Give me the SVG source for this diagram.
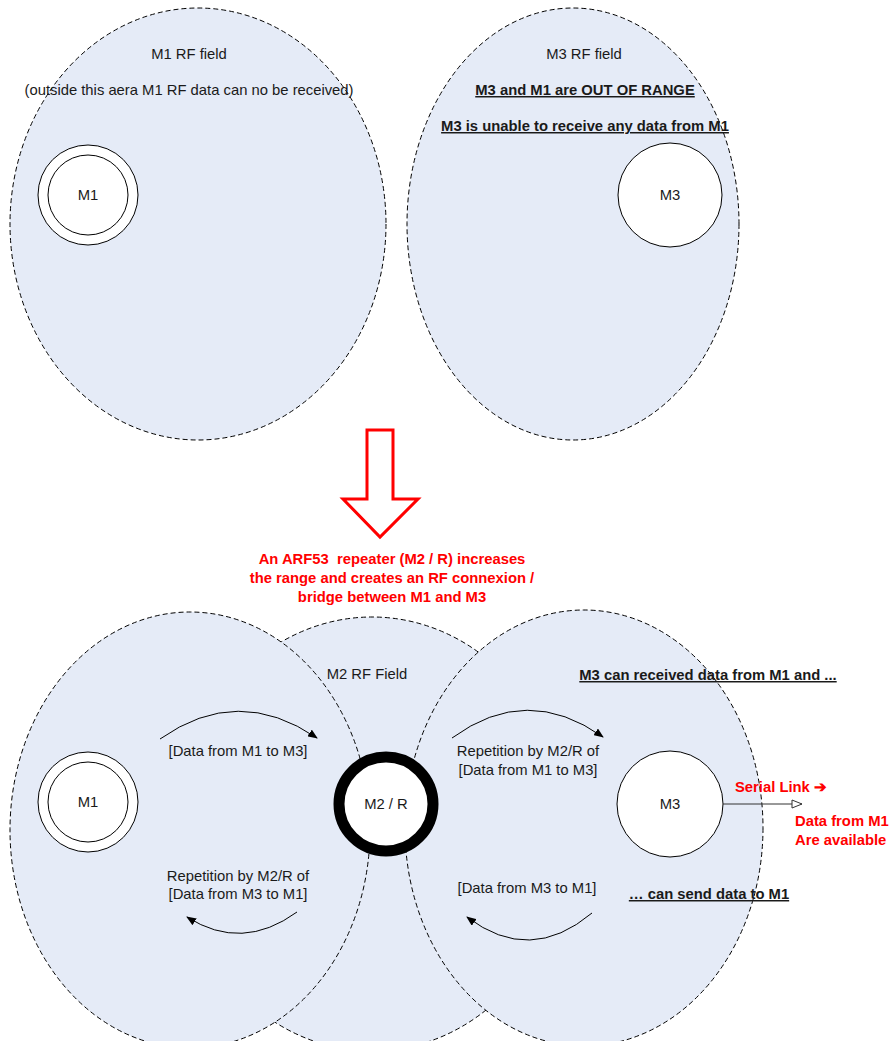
<svg xmlns="http://www.w3.org/2000/svg" width="890" height="1041" viewBox="0 0 890 1041">
<style>
.field{fill:#E5EBF7;stroke:#000;stroke-width:1;stroke-dasharray:5,3}
.node{fill:#fff;stroke:#000;stroke-width:1}
.t{font-family:"Liberation Sans",Arial,sans-serif;font-size:14.8px;fill:#1a1a1a;text-anchor:middle}
.b{font-weight:bold;text-decoration:underline}
.r{font-family:"Liberation Sans",Arial,sans-serif;font-size:14.8px;font-weight:bold;fill:#FF0000;white-space:pre}
.arc{fill:none;stroke:#000;stroke-width:1}
</style>
<defs>
<marker id="ah" markerWidth="10" markerHeight="8" refX="9" refY="4" orient="auto" markerUnits="userSpaceOnUse">
<path d="M0,0 L10,4 L0,8 z" fill="#000"/>
</marker>
<marker id="oh" markerWidth="12" markerHeight="10" refX="11" refY="5" orient="auto" markerUnits="userSpaceOnUse">
<path d="M1,1 L11,5 L1,9 z" fill="#fff" stroke="#333" stroke-width="1"/>
</marker>
</defs>

<!-- Top fields -->
<g id="m1-field-top">
<ellipse class="field" cx="198" cy="224" rx="188" ry="216"/>
<text class="t" x="189" y="59">M1 RF field</text>
<text class="t" x="189" y="95">(outside this aera M1 RF data can no be received)</text>
</g>
<g id="m3-field-top">
<ellipse class="field" cx="573" cy="224" rx="166" ry="216"/>
<text class="t" x="584" y="59">M3 RF field</text>
<text class="t b" x="585" y="95">M3 and M1 are OUT OF RANGE</text>
<text class="t b" x="585" y="131">M3 is unable to receive any data from M1</text>
</g>
<g id="m1-top">
<circle class="node" cx="88" cy="195" r="50"/>
<circle class="node" cx="88" cy="195" r="40"/>
<text class="t" x="88" y="200">M1</text>
</g>
<g id="m3-top">
<circle class="node" cx="670" cy="195" r="52"/>
<text class="t" x="670" y="200">M3</text>
</g>

<!-- Red transition arrow -->
<g id="transition">
<polygon points="367,430 393,430 393,499 418,499 380,537 343,499 367,499" fill="#fff" stroke="#FF0000" stroke-width="3" stroke-linejoin="miter"/>
<text class="r" x="392" y="564" text-anchor="middle">An ARF53  repeater (M2 / R) increases</text>
<text class="r" x="392" y="583" text-anchor="middle">the range and creates an RF connexion /</text>
<text class="r" x="392" y="602" text-anchor="middle">bridge between M1 and M3</text>
</g>

<!-- Bottom fields -->
<g id="m2-field">
<ellipse class="field" cx="372" cy="834" rx="195" ry="217"/>
<text class="t" x="367" y="679">M2 RF Field</text>
</g>
<g id="m1-field">
<ellipse class="field" cx="190" cy="830" rx="180" ry="218"/>
</g>
<g id="m3-field">
<ellipse class="field" cx="584" cy="828" rx="179" ry="218"/>
<text class="t b" x="708" y="680">M3 can received data from M1 and ...</text>
<text class="t b" x="709" y="899">… can send data to M1</text>
</g>

<g id="m1">
<circle class="node" cx="88" cy="802" r="50"/>
<circle class="node" cx="88" cy="802" r="40"/>
<text class="t" x="88" y="807">M1</text>
</g>
<g id="m2r">
<circle cx="386" cy="804" r="47" fill="#fff" stroke="#000" stroke-width="11"/>
<text class="t" x="386" y="809">M2 / R</text>
</g>
<g id="m3">
<circle class="node" cx="670" cy="804" r="53"/>
<text class="t" x="670" y="809">M3</text>
</g>

<!-- Connectors -->
<g id="connectors">
<path class="arc" d="M160,739 Q238,684 317,738" marker-end="url(#ah)"/>
<path class="arc" d="M452,738 Q527,683 603,737" marker-end="url(#ah)"/>
<path class="arc" d="M297,912 Q242,952 187,917" marker-end="url(#ah)"/>
<path class="arc" d="M592,913 Q530,965 467,917" marker-end="url(#ah)"/>
<line x1="723" y1="804" x2="802" y2="804" stroke="#333" stroke-width="1" marker-end="url(#oh)"/>
</g>

<g id="labels">
<text class="t" x="238" y="756">[Data from M1 to M3]</text>
<text class="t" x="528" y="756">Repetition by M2/R of</text>
<text class="t" x="528" y="775">[Data from M1 to M3]</text>
<text class="t" x="238" y="881">Repetition by M2/R of</text>
<text class="t" x="238" y="899">[Data from M3 to M1]</text>
<text class="t" x="527" y="893">[Data from M3 to M1]</text>
<text class="r" x="735" y="792">Serial Link ➔</text>
<text class="r" x="795" y="826">Data from M1</text>
<text class="r" x="795" y="845">Are available</text>
</g>
</svg>
